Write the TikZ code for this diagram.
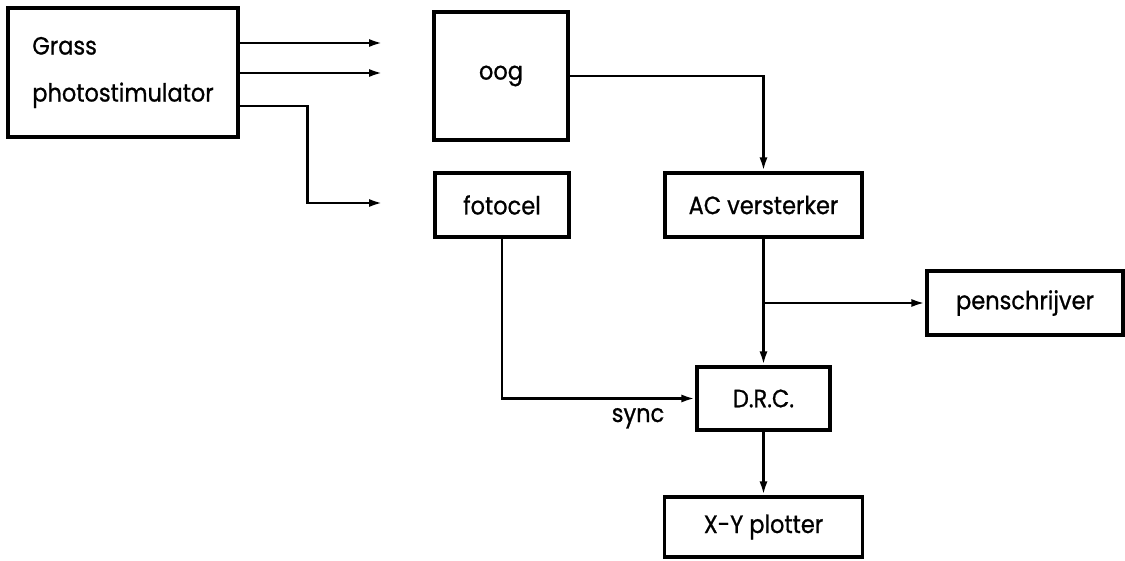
\documentclass[tikz,border=0pt]{standalone}
\usepackage{fontspec}
\setmainfont{Poppins}[FakeStretch=0.9,FakeBold=0.8]
\usetikzlibrary{arrows.meta}
\begin{document}
\begin{tikzpicture}[x=1pt,y=-1pt,
  box/.style={draw, line width=3.2pt, inner sep=0pt, font=\fontsize{25}{47}\selectfont},
  conn/.style={line width=2.8pt, -{Latex[length=14pt,width=8pt]}},
  lbl/.style={inner sep=0pt, font=\fontsize{25}{30}\selectfont}]
\useasboundingbox (0,0) rectangle (1125,561);
\node[box, minimum width=230pt, minimum height=129pt, align=left] (gs) at (123,72.5) {Grass\\photostimulator};
\node[box, minimum width=134pt, minimum height=128pt] (oog) at (501,76) {oog};
\node[box, minimum width=134pt, minimum height=64pt] (foto) at (502,205) {fotocel};
\node[box, minimum width=197pt, minimum height=64pt] (ac) at (763.5,205) {AC versterker};
\node[box, minimum width=196pt, minimum height=64pt] (pen) at (1025,303) {penschrijver};
\node[box, minimum width=133pt, minimum height=63pt] (drc) at (763.5,398.5) {D.R.C.};
\node[box, minimum width=198pt, minimum height=60pt] (xy) at (763.5,527) {X-Y plotter};
\node[lbl, anchor=base] (sync) at (638,422) {sync};
\coordinate (e1) at (383,43);
\coordinate (e2) at (383,73);
\coordinate (e3) at (383,203);
\draw[conn] (gs.east |- e1) -- (e1);
\draw[conn] (gs.east |- e2) -- (e2);
\draw[conn] ([yshift=-33.5pt]gs.east) -- ++(68,0) |- (e3);
\draw[conn] (oog.east) -| (ac.north);
\draw[conn] (ac.south) -- (drc.north);
\draw[conn] (ac.south |- pen.west) -- (pen.west);
\draw[conn] (foto.south) |- (drc.west);
\draw[conn] (drc.south) -- (xy.north);
\end{tikzpicture}
\end{document}
